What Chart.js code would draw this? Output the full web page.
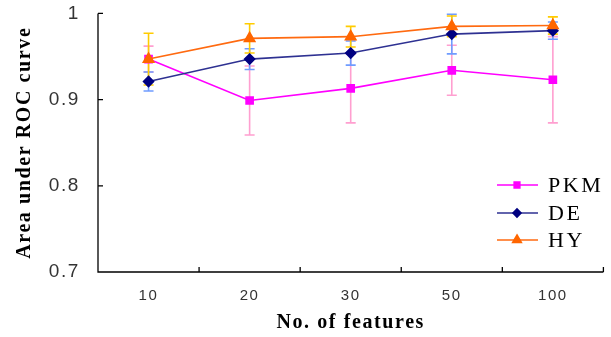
<!DOCTYPE html>
<html><head><meta charset="utf-8">
<script src="https://cdn.jsdelivr.net/npm/chart.js@4/dist/chart.umd.min.js"></script>
<style>html,body{margin:0;padding:0;background:#fff;}#wrap{width:611px;height:337px;}</style>
</head><body><div id="wrap"><canvas id="c" width="611" height="337"></canvas></div>
<script>
const categories = ["10", "20", "30", "50", "100"];
const pkmValues = [0.947, 0.899, 0.913, 0.934, 0.923];
const pkmErrors = [0.015, 0.040, 0.040, 0.029, 0.050];
const deValues  = [0.921, 0.947, 0.954, 0.976, 0.980];
const deErrors  = [0.011, 0.012, 0.014, 0.023, 0.010];
const hyValues  = [0.947, 0.971, 0.973, 0.985, 0.986];
const hyErrors  = [0.030, 0.017, 0.012, 0.012, 0.010];
const yTicks = [0.7, 0.8, 0.9, 1.0];
const yTickLabels = ["0.7", "0.8", "0.9", "1"];

const seriesNames = ["PKM", "DE", "HY"];
const errorSets = [pkmErrors, deErrors, hyErrors];
const errColors = ["#ff9fd0", "#6f9cff", "#ffcc00"];

function spacing(chart) { chart.ctx.letterSpacing = '1.6px'; }

const errorBars = {
  id: 'errorBars',
  beforeLayout(chart) { spacing(chart); },
  beforeDraw(chart) { spacing(chart); },
  beforeDatasetsDraw(chart) {
    const ctx = chart.ctx, y = chart.scales.y;
    chart.data.datasets.forEach((ds, i) => {
      const meta = chart.getDatasetMeta(i);
      ctx.save();
      ctx.strokeStyle = errColors[i];
      ctx.lineWidth = 1.6;
      meta.data.forEach((pt, j) => {
        const v = ds.data[j], e = errorSets[i][j];
        const yt = y.getPixelForValue(v + e), yb = y.getPixelForValue(v - e);
        ctx.beginPath();
        ctx.moveTo(pt.x, yt); ctx.lineTo(pt.x, yb);
        ctx.moveTo(pt.x - 5, yt); ctx.lineTo(pt.x + 5, yt);
        ctx.moveTo(pt.x - 5, yb); ctx.lineTo(pt.x + 5, yb);
        ctx.stroke();
      });
      ctx.restore();
    });
  },
  afterDraw(chart) {
    const ctx = chart.ctx, a = chart.chartArea, x = chart.scales.x, y = chart.scales.y;
    ctx.save();
    ctx.strokeStyle = '#000'; ctx.lineWidth = 1.3;
    ctx.beginPath();
    ctx.moveTo(a.left, a.top); ctx.lineTo(a.left, a.bottom); ctx.lineTo(a.right, a.bottom);
    yTicks.forEach(t => { const py = y.getPixelForValue(t); ctx.moveTo(a.left, py); ctx.lineTo(a.left + 5, py); });
    const step = x.getPixelForValue(1) - x.getPixelForValue(0);
    for (let i = 0; i < categories.length; i++) {
      const px = x.getPixelForValue(i) + step / 2;
      ctx.moveTo(px, a.bottom); ctx.lineTo(px, a.bottom - 5);
    }
    ctx.stroke();
    const ly = [185, 213, 240];
    chart.data.datasets.forEach((ds, i) => {
      ctx.strokeStyle = ds.borderColor; ctx.lineWidth = 1.6;
      ctx.beginPath(); ctx.moveTo(497, ly[i]); ctx.lineTo(538, ly[i]); ctx.stroke();
      ctx.fillStyle = ds.pointBackgroundColor;
      ctx.strokeStyle = ds.pointBorderColor;
      Chart.helpers.drawPoint(ctx, {pointStyle: ds.pointStyle, radius: ds.pointRadius - 1, borderWidth: 1}, 517, ly[i]);
      ctx.fillStyle = '#000';
      ctx.letterSpacing = '2.6px';
      ctx.font = '22px "Liberation Serif"';
      ctx.textBaseline = 'middle';
      ctx.fillText(seriesNames[i], 548, ly[i] + 1);
    });
    ctx.restore();
  }
};

const hiddenTicks = {display: true, drawOnChartArea: false, drawTicks: true, tickLength: 16, color: 'rgba(0,0,0,0)'};

new Chart(document.getElementById('c'), {
  type: 'line',
  data: {
    labels: categories,
    datasets: [
      {label: seriesNames[0], data: pkmValues, borderColor: '#ff00ff', backgroundColor: '#ff00ff',
       pointStyle: 'rect', pointRadius: 5, pointBackgroundColor: '#ff00ff', pointBorderColor: '#ff00ff', borderWidth: 1.6, order: 3},
      {label: seriesNames[1], data: deValues, borderColor: '#2e3192', backgroundColor: '#000080',
       pointStyle: 'rectRot', pointRadius: 5, pointBackgroundColor: '#000080', pointBorderColor: '#000080', borderWidth: 1.6, order: 2},
      {label: seriesNames[2], data: hyValues, borderColor: '#ff6a10', backgroundColor: '#ff6600',
       pointStyle: 'triangle', pointRadius: 6, pointBackgroundColor: '#ff6600', pointBorderColor: '#ff6600', borderWidth: 1.6, order: 1}
    ]
  },
  options: {
    responsive: false, animation: false, devicePixelRatio: 1,
    layout: {padding: {top: 0, right: 3, bottom: 0, left: 0}},
    plugins: {legend: {display: false}, tooltip: {enabled: false}},
    elements: {line: {tension: 0}},
    scales: {
      x: {
        type: 'category', offset: true,
        grid: {display: false, drawTicks: false}, border: {display: false},
        ticks: {color: '#333', font: {family: '"Liberation Sans"', size: 15}, padding: 15, maxRotation: 0},
        title: {display: true, text: 'No. of features', color: '#000', font: {family: '"Liberation Serif"', size: 20, weight: 'bold'}, padding: {top: 1, bottom: 2}},
        afterFit(s) { s.height = 65; }
      },
      y: {
        min: 0.7, max: 1.0,
        grid: hiddenTicks, border: {display: false},
        afterBuildTicks(s) { s.ticks = yTicks.map(v => ({value: v})); },
        ticks: {color: '#333', font: {family: '"Liberation Sans"', size: 19}, padding: 2,
                callback: (v, i) => yTickLabels[i]},
        title: {display: true, text: 'Area under ROC curve', color: '#000', font: {family: '"Liberation Serif"', size: 20, weight: 'bold'}, padding: {top: 13, bottom: 8}},
        afterFit(s) { s.width = 98; }
      }
    }
  },
  plugins: [errorBars]
});
</script>
</body></html>
